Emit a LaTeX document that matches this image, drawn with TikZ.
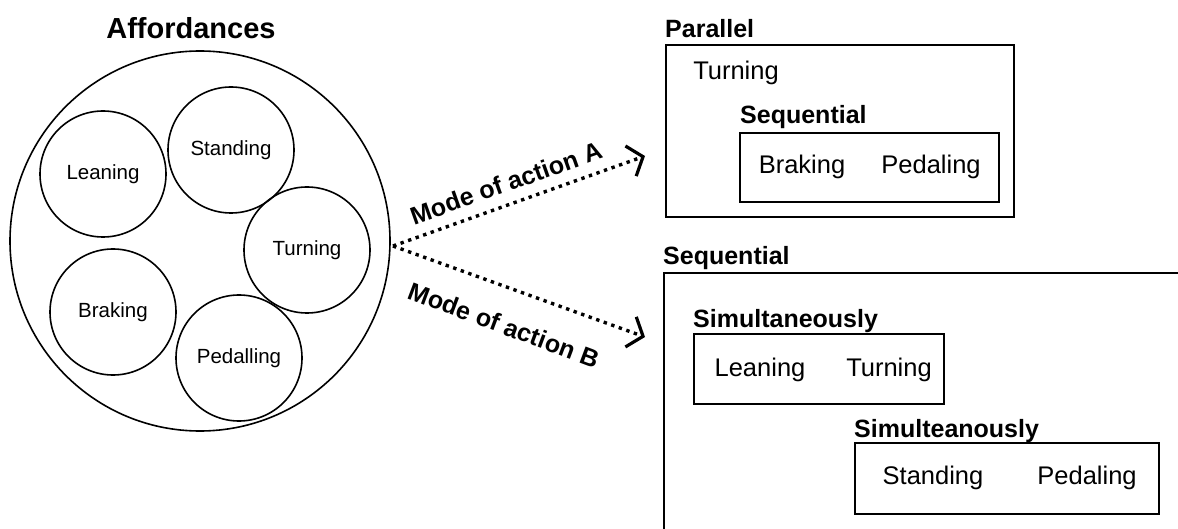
\documentclass[tikz,border=0pt]{standalone}
\usepackage{fontspec}
\setmainfont{Liberation Sans}
\usetikzlibrary{arrows.meta}

\tikzset{
  affcircle/.style={draw, circle, line width=1.6pt, inner sep=0pt, minimum size=126pt,
    font=\fontsize{20.5}{24}\selectfont},
  modebox/.style={draw, rectangle, line width=1.6pt, inner sep=0pt, anchor=north west},
  actlabel/.style={font=\fontsize{25.5}{30}\selectfont},
  boxtitle/.style={font=\fontsize{25}{30}\selectfont\bfseries, anchor=base west, inner sep=0pt},
  modearrow/.style={line width=3.4pt, dash pattern=on 3.4pt off 4.6pt,
    -{Straight Barb[length=13pt,width=32pt,line width=3.2pt]}},
  modelabel/.style={font=\fontsize{25}{30}\selectfont\bfseries, inner sep=0pt}
}

\begin{document}
\begin{tikzpicture}[x=1pt,y=-1pt]
\useasboundingbox (0,0) rectangle (1178,529);
\clip (0,0) rectangle (1178,529);

% Affordances
\node[font=\fontsize{29}{34}\selectfont\bfseries] (afftitle) at (191,28) {Affordances};
\node[draw, circle, line width=1.6pt, inner sep=0pt, minimum size=380pt] (aff) at (200,241) {};
\node[affcircle] (lean) at (103,174) {Leaning};
\node[affcircle] (stand) at (231,150) {Standing};
\node[affcircle] (turn) at (307,250) {Turning};
\node[affcircle] (brake) at (113,312) {Braking};
\node[affcircle] (pedal) at (239,358) {Pedalling};

% Modes of action
\coordinate (src) at (393,246);
\coordinate (tipA) at (645,156);
\coordinate (tipB) at (645,337);
\draw[modearrow] (src) -- (tipA);
\draw[modearrow] (src) -- (tipB);
\node[modelabel, rotate=19.5] (modeA) at (506,183) {Mode of action A};
\node[modelabel, rotate=-20.5] (modeB) at (504,325) {Mode of action B};

% Parallel
\node[modebox, minimum width=348pt, minimum height=172pt] (par) at (665,44) {};
\node[boxtitle] (partitle) at (665,38) {Parallel};
\node[actlabel] (parturn) at (736,73) {Turning};
\node[modebox, minimum width=259pt, minimum height=69pt] (seqA) at (739,132) {};
\node[boxtitle] (seqAtitle) at (740,124) {Sequential};
\node[actlabel] (seqAbrake) at (802,167) {Braking};
\node[actlabel] (seqApedal) at (931,167) {Pedaling};

% Sequential
\node[modebox, minimum width=540pt, minimum height=290pt] (seqB) at (663,272) {};
\node[boxtitle] (seqBtitle) at (663,265) {Sequential};
\node[modebox, minimum width=250pt, minimum height=70pt] (simA) at (693,333) {};
\node[boxtitle] (simAtitle) at (693,327) {Simultaneously};
\node[actlabel] (simAlean) at (760,370) {Leaning};
\node[actlabel] (simAturn) at (889,370) {Turning};
\node[modebox, minimum width=304pt, minimum height=71pt] (simB) at (854,442) {};
\node[boxtitle] (simBtitle) at (854,437) {Simulteanously};
\node[actlabel] (simBstand) at (933,478) {Standing};
\node[actlabel] (simBpedal) at (1087,478) {Pedaling};

\end{tikzpicture}
\end{document}
